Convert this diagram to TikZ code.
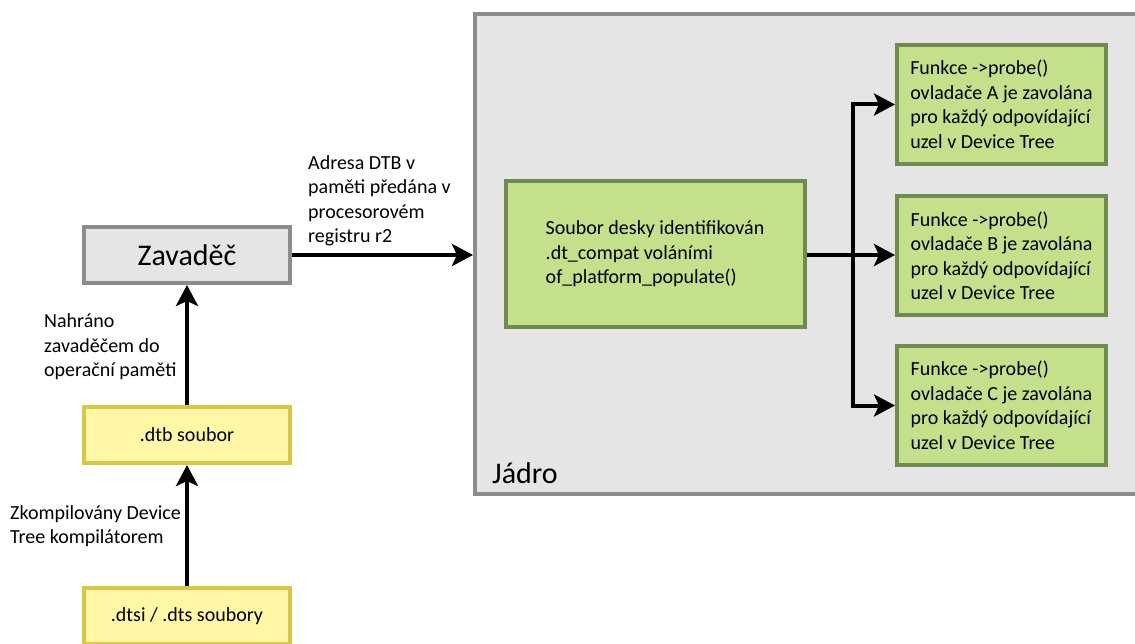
\documentclass[tikz,border=0pt]{standalone}
\usepackage{fontspec}
\setmainfont{Carlito}
\usepackage{xcolor}
\usepackage{tikz}
\usetikzlibrary{positioning,arrows.meta,calc}

\definecolor{kernelfill}{HTML}{E5E5E5}
\definecolor{kernelline}{HTML}{8C8C8C}
\definecolor{greenfill}{HTML}{C4E08A}
\definecolor{greenline}{HTML}{6E8C4F}
\definecolor{yellowfill}{HTML}{FFF6A6}
\definecolor{yellowline}{HTML}{D8C944}

\begin{document}
\begin{tikzpicture}[
    x=1pt, y=-1pt,
    txt/.style={font=\fontsize{20}{24.5}\selectfont},
    loaderbox/.style={rectangle, draw=kernelline, fill=kernelfill, line width=4pt, minimum width=206pt, minimum height=56pt, inner sep=0pt, font=\fontsize{30}{36}\selectfont},
    filebox/.style={rectangle, draw=yellowline, fill=yellowfill, line width=4pt, minimum width=206pt, minimum height=56pt, inner sep=0pt, txt},
    drvbox/.style={rectangle, draw=greenline, fill=greenfill, line width=4pt, minimum width=209pt, minimum height=119pt, inner sep=0pt, align=left, txt},
    note/.style={inner sep=0pt, align=left, txt},
    arrow/.style={-{Stealth[length=21pt, width=22pt, inset=5pt]}, line width=4pt}
]
\useasboundingbox (0,0) rectangle (1135,644);

% Kernel area
\node[rectangle, draw=kernelline, fill=kernelfill, line width=4pt, minimum width=672pt, minimum height=480pt, inner sep=0pt] (jadro) at (811, 254) {};
\node[anchor=base west, inner sep=0pt, font=\fontsize{30}{36}\selectfont] (jadrolbl) at (492, 483) {Jádro};

% Boot chain
\node[filebox] (dts) at (187, 616) {.dtsi / .dts soubory};
\node[filebox] (dtb) at (187, 435) {.dtb soubor};
\node[loaderbox] (zavadec) at (187, 255) {Zavaděč};

\draw[arrow] (dts) -- (dtb);
\draw[arrow] (dtb) -- (zavadec);

\node[note] (compiled) at (10, 526) [anchor=west] {Zkompilovány Device\\Tree kompilátorem};
\node[note] (loaded) at (44, 347) [anchor=west] {Nahráno\\zavaděčem do\\operační paměti};

% Hand-over to the kernel
\draw[arrow] (zavadec.east) -- (zavadec.east -| jadro.west);
\node[note] (handover) at (308, 201) [anchor=west] {Adresa DTB v\\paměti předána v\\procesorovém\\registru r2};

% Board file and drivers
\node[drvbox, minimum width=299pt, minimum height=146pt] (board) at (655, 254) {Soubor desky identifikován\\.dt\_compat voláními\\of\_platform\_populate()};

\node[drvbox] (probeA) at (1001.5, 104.5) {Funkce ->probe()\\ovladače A je zavolána\\pro každý odpovídající\\uzel v Device Tree};
\node[drvbox] (probeB) at (1001.5, 256) {Funkce ->probe()\\ovladače B je zavolána\\pro každý odpovídající\\uzel v Device Tree};
\node[drvbox] (probeC) at (1001.5, 405.5) {Funkce ->probe()\\ovladače C je zavolána\\pro každý odpovídající\\uzel v Device Tree};

\coordinate (split) at (853, 255);
\draw[line width=4pt] (board.east |- split) -- (split);
\draw[arrow] (split) |- (probeA.west);
\draw[arrow] (split) -- (split -| probeB.west);
\draw[arrow] (split) |- (probeC.west);

\end{tikzpicture}
\end{document}
